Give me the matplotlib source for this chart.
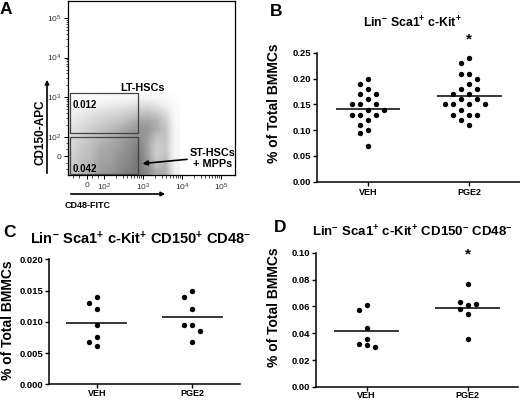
import numpy as np
import matplotlib
matplotlib.use('Agg')
import matplotlib.pyplot as plt

plt.rcParams['font.family'] = ['Liberation Sans', 'DejaVu Sans']
plt.rcParams['mathtext.fontset'] = 'custom'
plt.rcParams['mathtext.rm'] = 'Liberation Sans'
plt.rcParams['mathtext.bf'] = 'Liberation Sans:bold'
plt.rcParams['mathtext.it'] = 'Liberation Sans:italic'

W, H = 520, 401

groups = ['VEH', 'PGE2']

# B  Lin- Sca1+ c-Kit+ (% of total BMMCs)
lsk_veh = [0.20, 0.19, 0.18, 0.17, 0.17, 0.16, 0.15, 0.15, 0.15, 0.14, 0.14,
           0.13, 0.13, 0.13, 0.12, 0.11, 0.10, 0.095, 0.07]
lsk_pge2 = [0.24, 0.23, 0.21, 0.21, 0.20, 0.19, 0.18, 0.18, 0.17, 0.17, 0.16,
            0.16, 0.15, 0.15, 0.15, 0.15, 0.14, 0.13, 0.13, 0.13, 0.12, 0.11]

# C  CD150+ CD48- (LT-HSC)
lt_veh = [0.014, 0.013, 0.012, 0.0095, 0.0075, 0.0068, 0.0062]
lt_pge2 = [0.015, 0.014, 0.012, 0.0095, 0.0095, 0.0085, 0.0067]

# D  CD150- CD48- (ST-HSC + MPP)
st_veh = [0.061, 0.057, 0.044, 0.036, 0.032, 0.031, 0.030]
st_pge2 = [0.077, 0.061, 0.054, 0.036, 0.063, 0.062, 0.058]

# A  flow plot: density of events (0 = none, 1 = darkest), rows top -> bottom
flow_density = np.array([
    [0.00, 0.02, 0.04, 0.05, 0.06, 0.08, 0.08, 0.10, 0.10, 0.08, 0.05, 0.02],
    [0.08, 0.12, 0.15, 0.18, 0.20, 0.22, 0.25, 0.28, 0.30, 0.25, 0.15, 0.04],
    [0.15, 0.20, 0.25, 0.30, 0.33, 0.36, 0.40, 0.45, 0.48, 0.42, 0.30, 0.06],
    [0.22, 0.28, 0.33, 0.38, 0.42, 0.46, 0.52, 0.58, 0.60, 0.55, 0.40, 0.08],
    [0.28, 0.33, 0.40, 0.45, 0.50, 0.55, 0.60, 0.65, 0.65, 0.55, 0.45, 0.10],
    [0.32, 0.38, 0.45, 0.50, 0.55, 0.60, 0.65, 0.70, 0.62, 0.45, 0.45, 0.10],
    [0.35, 0.42, 0.48, 0.55, 0.58, 0.62, 0.68, 0.75, 0.60, 0.40, 0.42, 0.10],
    [0.38, 0.45, 0.50, 0.58, 0.60, 0.65, 0.70, 0.78, 0.62, 0.40, 0.45, 0.10],
    [0.40, 0.48, 0.52, 0.60, 0.62, 0.68, 0.72, 0.80, 0.65, 0.45, 0.50, 0.12],
    [0.42, 0.50, 0.55, 0.62, 0.65, 0.70, 0.75, 0.80, 0.70, 0.55, 0.55, 0.15],
])
# extent of the event cloud in decades (CD48 x, CD150 y)
cloud_x = (1.08, 3.95)
cloud_y = (1.05, 3.10)
gate_names = ['LT-HSCs', 'ST-HSCs\n+ MPPs']
gate_freq = ['0.012', '0.042']
decade_labels = ['0', '$10^2$', '$10^3$', '$10^4$', '$10^5$']
decade_pos = [1.56, 2, 3, 4, 5]
decade_pos_y = [1.52, 2, 3, 4, 5]


def fx(px):
    return px / W


def fy(py):
    return 1 - py / H


def add_ax(left, top, right, bottom):
    return fig.add_axes([fx(left), fy(bottom), (right - left) / W, (bottom - top) / H])


def swarm(vals, ax, step=8.0, dia=6.5):
    pos = ax.get_position()
    y0, y1 = ax.get_ylim()
    x0, x1 = ax.get_xlim()
    ppu_y = pos.height * H / (y1 - y0)
    ppu_x = pos.width * W / (x1 - x0)
    cands = [0]
    for i in range(1, 10):
        cands += [-i, i]
    placed = []
    offs = []
    for v in vals:
        for c in cands:
            if all(np.hypot((c - c2) * step, (v - v2) * ppu_y) >= dia for c2, v2 in placed):
                break
        placed.append((c, v))
        offs.append(c * step / ppu_x)
    return np.array(offs)


def dot_panel(ax, veh, pge2, ymax, yticks, fmt, title, title_xy, title_size, ylab_xy,
              xpad=1.5, star=None):
    ax.set_xlim(-0.5, 1.5)
    ax.set_ylim(0, ymax)
    for i, vals in enumerate([veh, pge2]):
        offs = swarm(vals, ax)
        ax.scatter(i + offs, vals, s=15, color='black', linewidths=0, zorder=3, clip_on=False)
        ax.hlines(np.mean(vals), i - 0.32, i + 0.32, color='black', lw=1.1, zorder=2)
    ax.set_xticks([0, 1])
    ax.set_xticklabels(groups, fontsize=6.5, fontweight='bold')
    ax.set_yticks(yticks)
    ax.set_yticklabels([fmt % t for t in yticks], fontsize=6.8, fontweight='bold')
    ax.tick_params(axis='x', length=3, width=1.0, pad=xpad)
    ax.tick_params(axis='y', length=3, width=1.0, pad=1.5)
    for s in ['top', 'right']:
        ax.spines[s].set_visible(False)
    for s in ['left', 'bottom']:
        ax.spines[s].set_linewidth(1.1)
    ax.set_ylabel('% of Total BMMCs', fontsize=10, fontweight='bold')
    ax.yaxis.set_label_coords(*ylab_xy)
    ax.text(title_xy[0], title_xy[1], title, transform=ax.transAxes, ha='center', va='center',
            fontsize=title_size, fontweight='bold')
    if star is not None:
        ax.text(1, star, '*', ha='center', va='center', fontsize=11, fontweight='bold', clip_on=False)


fig = plt.figure(figsize=(W / 100, H / 100), dpi=100)

# ---------------- A: flow plot
axA = add_ax(68, 1, 235, 175)
axA.set_xlim(1.08, 5.36)
axA.set_ylim(1.05, 5.42)
axA.imshow(flow_density, cmap='Greys', vmin=0, vmax=1.3, interpolation='bilinear',
           extent=[cloud_x[0], cloud_x[1], cloud_y[0], cloud_y[1]], aspect='auto', zorder=1)
gx0, gx1 = 1.13, 2.87
axA.add_patch(plt.Rectangle((gx0, 2.10), gx1 - gx0, 1.0, fill=False, ec='#444444', lw=0.9, zorder=3))
axA.add_patch(plt.Rectangle((gx0, 1.07), gx1 - gx0, 0.93, fill=False, ec='#444444', lw=0.9, zorder=3))
axA.set_xticks(decade_pos)
axA.set_xticklabels(decade_labels, fontsize=6, color='#333333')
axA.set_yticks(decade_pos_y)
axA.set_yticklabels(decade_labels, fontsize=6, color='#333333')
minor = [k + np.log10(m) for k in (2, 3, 4) for m in range(2, 10)] + [1.2, 1.35, 1.7, 1.85]
axA.set_xticks(minor, minor=True)
axA.set_yticks(minor, minor=True)
axA.tick_params(which='major', length=3, width=0.7, pad=2)
axA.tick_params(which='minor', length=1.8, width=0.5)
for s in axA.spines.values():
    s.set_linewidth(0.9)
axA.text(1.20, 2.80, gate_freq[0], fontsize=7, fontweight='bold', va='center', zorder=4)
axA.text(1.20, 1.20, gate_freq[1], fontsize=7, fontweight='bold', va='center', zorder=4)
axA.text(2.98, 3.24, gate_names[0], fontsize=7.8, fontweight='bold', ha='center', va='center', zorder=4)
axA.text(4.79, 1.47, gate_names[1], fontsize=7.8, fontweight='bold', ha='center', va='center',
         linespacing=1.15, zorder=4)
axA.annotate('', xy=(2.92, 1.33), xytext=(4.20, 1.45),
             arrowprops=dict(arrowstyle='-|>', color='black', lw=1.2, mutation_scale=7), zorder=5)

fig.text(fx(40), fy(132), 'CD150-APC', rotation=90, ha='center', va='center', fontsize=8.5,
         fontweight='bold')
fig.add_artist(matplotlib.patches.FancyArrowPatch((fx(47), fy(176)), (fx(47), fy(77)),
               transform=fig.transFigure, arrowstyle='-|>', mutation_scale=6, color='black', lw=1.2))
fig.text(fx(88), fy(206), 'CD48-FITC', ha='center', va='center', fontsize=6.5, fontweight='bold')
fig.add_artist(matplotlib.patches.FancyArrowPatch((fx(68), fy(194)), (fx(168), fy(194)),
               transform=fig.transFigure, arrowstyle='-|>', mutation_scale=6, color='black', lw=1.2))

# ---------------- B
axB = add_ax(317.3, 53, 520, 181.7)
dot_panel(axB, lsk_veh, lsk_pge2, 0.25, [0, 0.05, 0.10, 0.15, 0.20, 0.25], '%.2f',
          r'Lin$^{\mathbf{-}}$ Sca1$^{\mathbf{+}}$ c-Kit$^{\mathbf{+}}$', (0.467, 1.233), 8.8,
          (-0.179, 0.61), xpad=1.5, star=0.276)

# ---------------- C
axC = add_ax(49.3, 259.3, 240, 384.3)
dot_panel(axC, lt_veh, lt_pge2, 0.020, [0, 0.005, 0.010, 0.015, 0.020], '%.3f',
          r'Lin$^{\mathbf{-}}$ Sca1$^{\mathbf{+}}$ c-Kit$^{\mathbf{+}}$ CD150$^{\mathbf{+}}$ CD48$^{\mathbf{-}}$',
          (0.481, 1.162), 10.5, (-0.18, 0.514), xpad=0.5)

# ---------------- D
axD = add_ax(316, 252.7, 518, 387)
dot_panel(axD, st_veh, st_pge2, 0.10, [0, 0.02, 0.04, 0.06, 0.08, 0.10], '%.2f',
          r'Lin$^{\mathbf{-}}$ Sca1$^{\mathbf{+}}$ c-Kit$^{\mathbf{+}}$ CD150$^{\mathbf{-}}$ CD48$^{\mathbf{-}}$',
          (0.475, 1.154), 9.5, (-0.173, 0.596), xpad=0.2, star=0.0985)

for lab, x, y in [('A', 6, 9), ('B', 276, 11), ('C', 10, 232), ('D', 280, 228)]:
    fig.text(fx(x), fy(y), lab, ha='center', va='center', fontsize=12.5, fontweight='bold')

fig.savefig('out.png', dpi=100)
